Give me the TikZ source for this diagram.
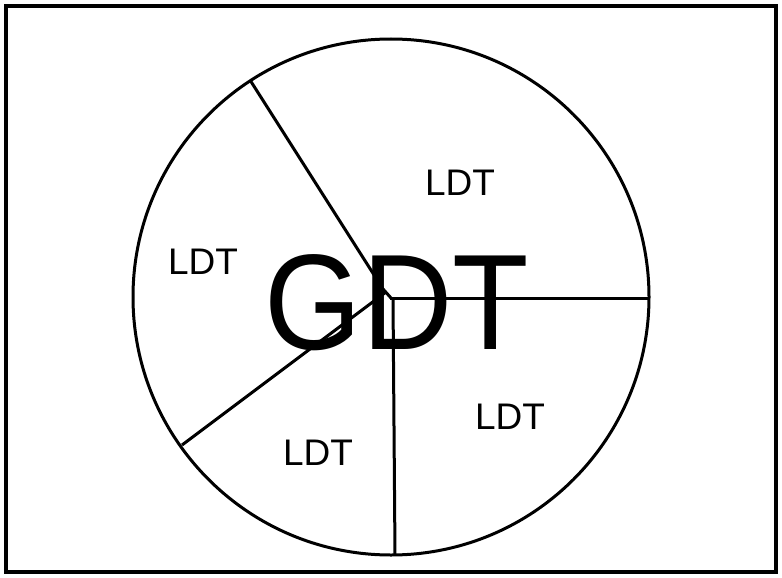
\documentclass[tikz,border=0pt]{standalone}
\usepackage{fontspec}
\setmainfont{Liberation Sans}
\usepackage{tikz}
\usetikzlibrary{positioning, calc}

\tikzset{
	region/.style={font=\fontsize{37}{40}\selectfont, inner sep=0pt},
	whole/.style={font=\fontsize{136}{140}\selectfont, inner sep=0pt, xscale=0.92}
}

\begin{document}
\begin{tikzpicture}[x=1pt,y=-1pt]
				\useasboundingbox (0,0) rectangle (782,578);
				\fill[white] (0,0) rectangle (782,578);
				\draw[line width=3.5pt] (6,6) rectangle (776,572);
				\coordinate (c) at (391,297);
				\draw[line width=3pt] (c) circle[radius=258];
				% spokes
				\coordinate (ul) at (250,80);
				\coordinate (ll) at (182,445);
				\coordinate (rr) at (649,298);
				\coordinate (bb) at (395,555);
				\draw[line width=3pt] (ul)--(383,289)--(391,298);
				\draw[line width=3pt] (ll)--(386,292);
				\draw[line width=3pt] (390,298)--(rr);
				\draw[line width=3pt] (393,298)--(bb);
				\node[whole] (gdt) at (397,303) {GDT};
				\node[region] (top) at (460,183) {LDT};
				\node[region] (left) at (203,262) {LDT};
				\node[region] (right) at (510,417) {LDT};
				\node[region] (bottom) at (318,453) {LDT};
			\end{tikzpicture}
\end{document}
